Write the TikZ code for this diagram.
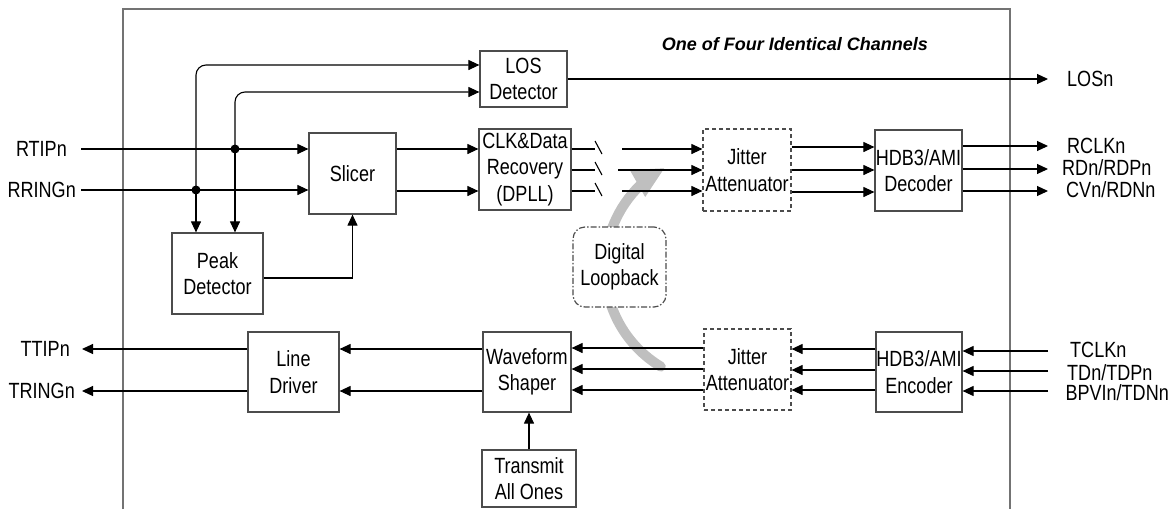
\documentclass[tikz,border=0pt]{standalone}
\usepackage{fontspec}
\setmainfont{Liberation Sans}[FakeStretch=0.82]
\newfontfamily\titlefont{Liberation Sans}
\usetikzlibrary{arrows.meta}
\begin{document}
\begin{tikzpicture}[x=1pt,y=-1pt,
  font=\fontsize{22}{26.5}\selectfont,
  blk/.style={draw=black!70, line width=1.2pt, fill=white, inner sep=0pt, align=center},
  dsh/.style={blk, dash pattern=on 4pt off 3pt},
  loopbox/.style={blk, rounded corners=12pt, dash pattern=on 6pt off 2pt on 1.5pt off 2pt},
  lbl/.style={inner sep=0pt, text height=15.7pt, text depth=0pt},
  ln/.style={draw=black, line width=1.1pt},
  arr/.style={ln, -{Triangle[length=11pt,width=10pt]}},
  frame/.style={draw=black!55, line width=2pt},
  dot/.style={fill=black},
  loopshaft/.style={draw=black!25, line width=10pt, line cap=round}
]
\useasboundingbox (0,0) rectangle (1170,509);

% frame
\draw[frame] (123,509) -- (123,9) -- (1010,9) -- (1010,509);
\node[font=\titlefont\fontsize{18}{22}\selectfont\bfseries\itshape, anchor=east, inner sep=0pt] (title) at (928,44) {One of Four Identical Channels};

% digital loopback grey arc (behind)
\draw[loopshaft] (660.8,366.6) .. controls (626.2,345.8) and (605,308.4) .. (605,268)
  .. controls (605,236.8) and (617.7,207) .. (640.1,185.3);
\fill[black!25] (664.2,168.3) -- (629.8,170) -- (645.2,197) -- cycle;

% receive blocks
\node[blk, minimum width=87pt, minimum height=81pt] (slicer) at (352.5,173.5) {Slicer};
\node[blk, minimum width=91pt, minimum height=81pt] (peak) at (217.5,273.5) {Peak\\Detector};
\node[blk, minimum width=87pt, minimum height=56pt] (los) at (523.5,79) {LOS\\Detector};
\node[blk, minimum width=92pt, minimum height=81pt] (cdr) at (525,169.5) {CLK\&Data\\Recovery\\(DPLL)};
\node[dsh, minimum width=88pt, minimum height=82pt] (jitR) at (747,170) {Jitter\\Attenuator};
\node[blk, minimum width=87pt, minimum height=81pt] (dec) at (918.5,170.5) {HDB3/AMI\\Decoder};
\node[loopbox, minimum width=93pt, minimum height=80pt] (loop) at (619.5,267) {Digital\\Loopback};

% transmit blocks
\node[blk, minimum width=91pt, minimum height=80pt] (ldrv) at (293.5,372) {Line\\Driver};
\node[blk, minimum width=88pt, minimum height=80pt] (wave) at (527,372) {Waveform\\Shaper};
\node[blk, minimum width=94pt, minimum height=57pt] (tao) at (529,478.5) {Transmit\\All Ones};
\node[dsh, minimum width=87pt, minimum height=81pt] (jitT) at (747.5,369.5) {Jitter\\Attenuator};
\node[blk, minimum width=86pt, minimum height=80pt] (enc) at (919,372) {HDB3/AMI\\Encoder};

% labels
\node[lbl, anchor=east] (rtip) at (67,149) {RTIPn};
\node[lbl, anchor=east] (rring) at (76,190) {RRINGn};
\node[lbl, anchor=west] (losn) at (1067,79) {LOSn};
\node[lbl, anchor=west] (rclk) at (1067,146) {RCLKn};
\node[lbl, anchor=west] (rdn) at (1062,168) {RDn/RDPn};
\node[lbl, anchor=west] (cvn) at (1066,190) {CVn/RDNn};
\node[lbl, anchor=east] (ttip) at (70,349) {TTIPn};
\node[lbl, anchor=east] (tring) at (75,391) {TRINGn};
\node[lbl, anchor=west] (tclk) at (1070,350) {TCLKn};
\node[lbl, anchor=west] (tdn) at (1067,373) {TDn/TDPn};
\node[lbl, anchor=east] (bpv) at (1169,393) {BPVIn/TDNn};

% free ends
\coordinate (rtipS) at (81,149);
\coordinate (rringS) at (81,190);
\coordinate (d1) at (235,149);
\coordinate (d2) at (196,190);
\coordinate (losE) at (1048,79);
\coordinate (ttipE) at (82,349);
\coordinate (tringE) at (82,391);

% receive connectors
\draw[arr] (rtipS) -- (slicer.west |- rtipS);
\draw[arr] (rringS) -- (slicer.west |- rringS);
\draw[arr, rounded corners=10pt] (d2) |- ([yshift=14pt]los.west);
\draw[arr, rounded corners=10pt] (d1) |- ([yshift=-13pt]los.west);
\draw[arr] (d2) -- (d2 |- peak.north);
\draw[arr] (d1) -- (d1 |- peak.north);
\fill[dot] (d1) circle (4.5pt);
\fill[dot] (d2) circle (4.5pt);
\draw[arr] ([yshift=-4.5pt]peak.east) -| (slicer.south);
\draw[arr] (slicer.east |- rtipS) -- (cdr.west |- rtipS);
\draw[arr] (slicer.east |- 0,191) -- (cdr.west |- 0,191);
\draw[arr] (los.east) -- (losE);

\foreach \yy/\xs in {149/622,170/618,191/622}{
  \draw[ln] (cdr.east |- 0,\yy) -- (595,\yy);
  \draw[ln] (595,{\yy-8}) -- (602,{\yy+5});
  \draw[arr] (\xs,\yy) -- (jitR.west |- 0,\yy);
}
\foreach \yy in {147,170,192}{
  \draw[arr] (jitR.east |- 0,\yy) -- (dec.west |- 0,\yy);
}
\draw[arr] (dec.east |- rclk.west) -- ([xshift=-19pt]rclk.west);
\draw[arr] (dec.east |- 0,169) -- (1048,169);
\draw[arr] (dec.east |- 0,191) -- (1048,191);

% transmit connectors
\draw[arr] (1048,351) -- (enc.east |- 0,351);
\draw[arr] (1048,371) -- (enc.east |- 0,371);
\draw[arr] (1048,391) -- (enc.east |- 0,391);
\foreach \yy in {349,370,390}{
  \draw[arr] (enc.west |- 0,\yy) -- (jitT.east |- 0,\yy);
}
\foreach \yy in {348,369,390}{
  \draw[arr] (jitT.west |- 0,\yy) -- (wave.east |- 0,\yy);
}
\draw[arr] (wave.west |- 0,349) -- (ldrv.east |- 0,349);
\draw[arr] (wave.west |- 0,391) -- (ldrv.east |- 0,391);
\draw[arr] (ldrv.west |- ttipE) -- (ttipE);
\draw[arr] (ldrv.west |- tringE) -- (tringE);
\draw[arr] (tao.north) -- (tao.north |- wave.south);
\end{tikzpicture}
\end{document}
